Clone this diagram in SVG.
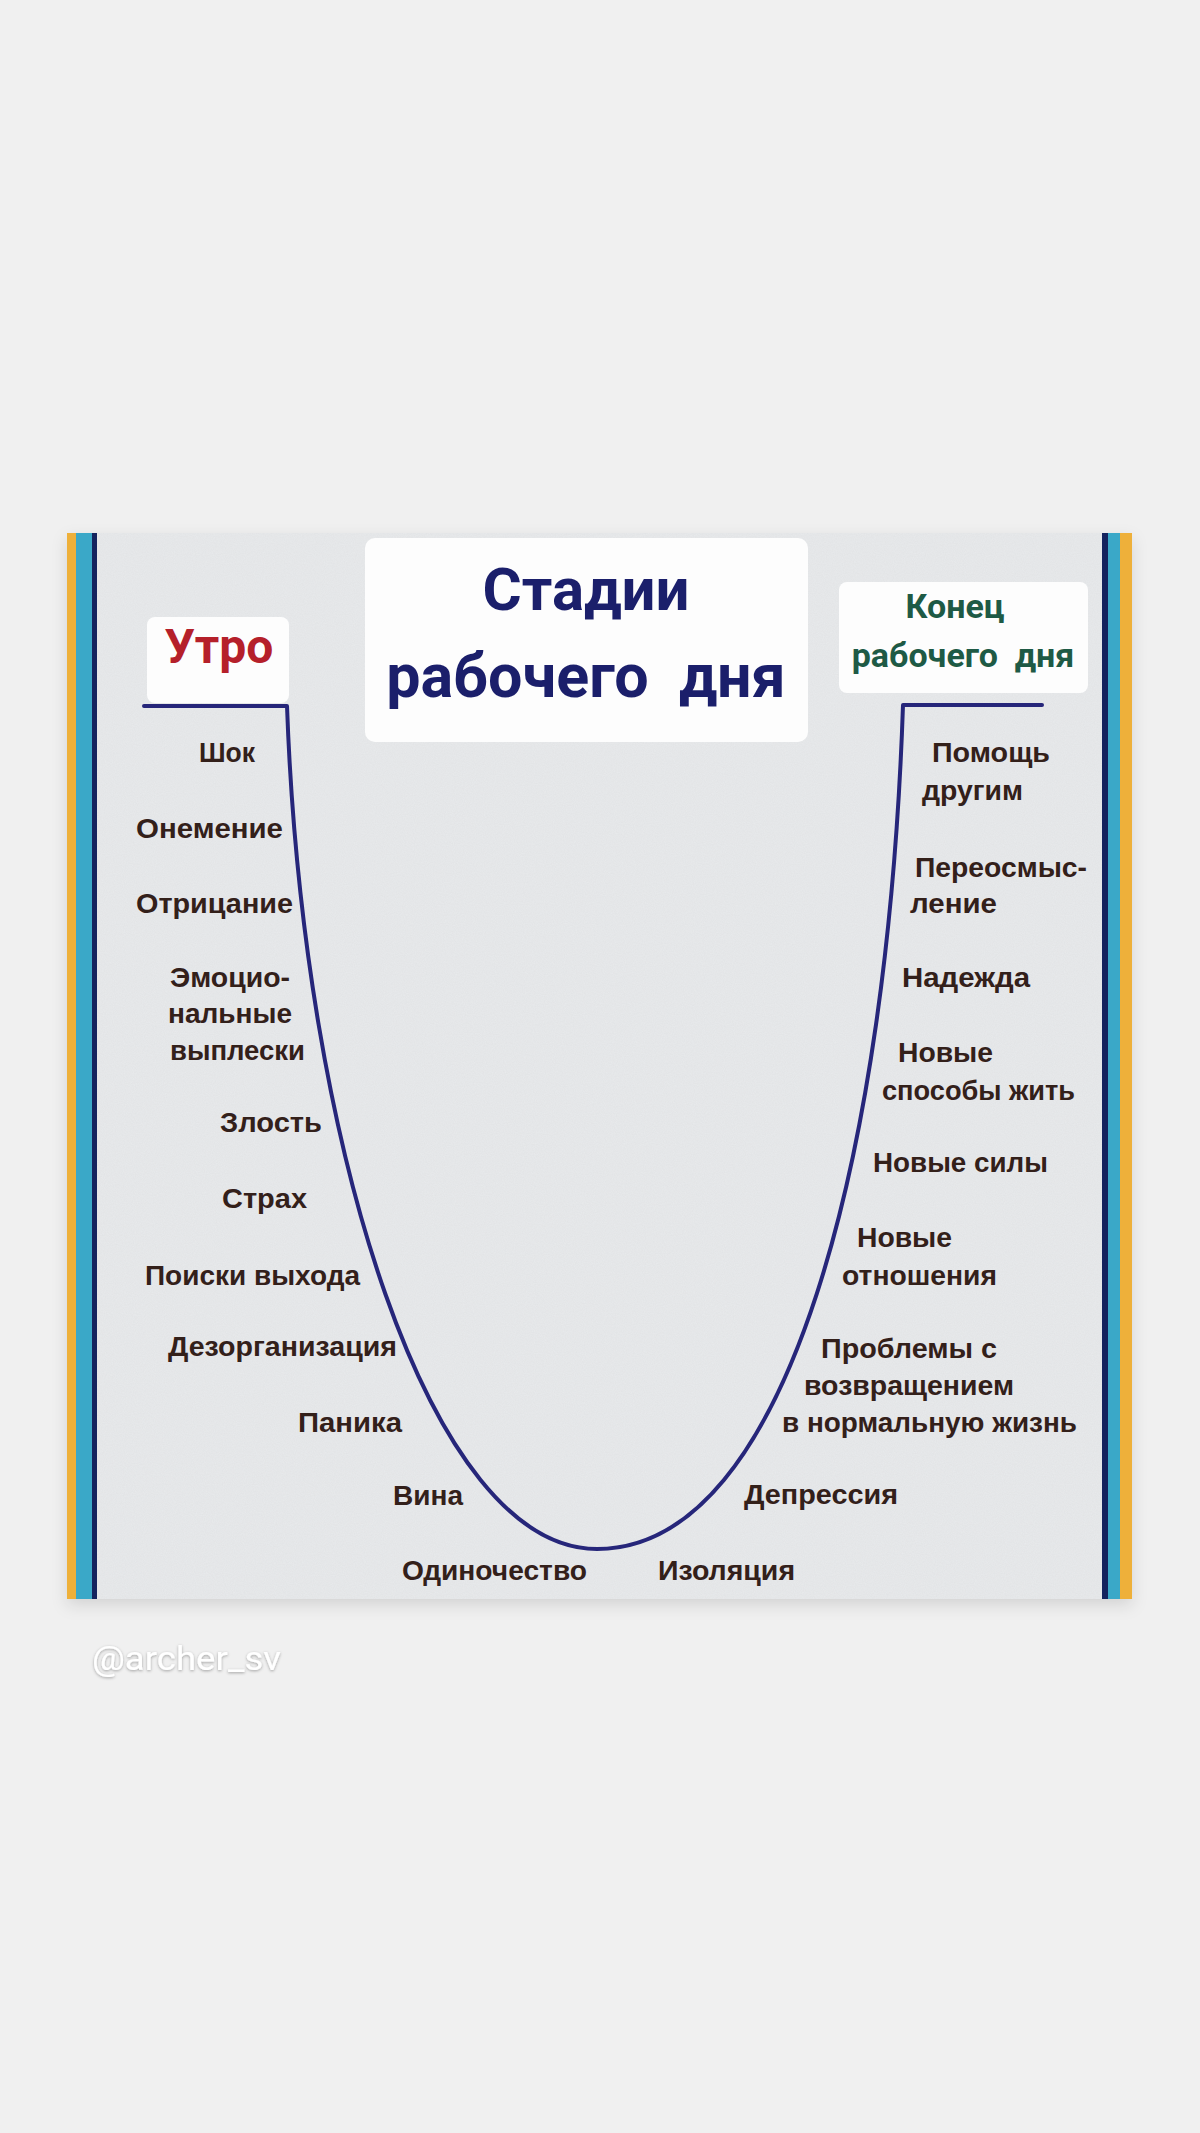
<svg xmlns="http://www.w3.org/2000/svg" width="1200" height="2133" viewBox="0 0 1200 2133">
<defs>
<style>
.lbl{font-family:"Liberation Sans",Arial,sans-serif;font-weight:bold;font-size:28px;fill:#33201a}
.ttl{font-family:Roboto,"Noto Sans",sans-serif;font-weight:bold;text-anchor:middle}
.box{fill:#fdfdfd}
.curve{fill:none;stroke:#26267a;stroke-width:4;stroke-linejoin:round;stroke-linecap:round}
</style>
<filter id="shadow" x="-5%" y="-5%" width="110%" height="115%">
<feDropShadow dx="0" dy="6" stdDeviation="8" flood-color="#000" flood-opacity="0.12"/>
</filter>
<filter id="wmshadow" x="-10%" y="-30%" width="120%" height="160%">
<feDropShadow dx="0" dy="1" stdDeviation="1.5" flood-color="#000" flood-opacity="0.35"/>
</filter>
<filter id="noise" x="0" y="0" width="100%" height="100%">
<feTurbulence type="fractalNoise" baseFrequency="0.9" numOctaves="2" seed="3" result="n"/>
<feColorMatrix in="n" type="matrix" values="0 0 0 0 0.5  0 0 0 0 0.5  0 0 0 0 0.5  0 0 0 0.15 0"/>
<feComposite in2="SourceGraphic" operator="in"/>
</filter>
</defs>
<rect width="1200" height="2133" fill="#f0f0f0"/>
<g id="panel">
<rect x="67" y="533" width="1065" height="1066" fill="#e8eaec" filter="url(#shadow)"/>
<rect x="97" y="533" width="1005" height="1066" fill="#e8eaec" filter="url(#noise)"/>
<rect x="67" y="533" width="9" height="1066" fill="#eeb03a"/>
<rect x="76" y="533" width="16" height="1066" fill="#3aa8c8"/>
<rect x="92" y="533" width="5" height="1066" fill="#14235e"/>
<rect x="1102" y="533" width="6" height="1066" fill="#14235e"/>
<rect x="1108" y="533" width="12" height="1066" fill="#3aa8c8"/>
<rect x="1120" y="533" width="12" height="1066" fill="#eeb03a"/>
</g>
<g id="title">
<rect class="box" x="365" y="538" width="443" height="204" rx="10"/>
<text class="ttl" x="586" y="610" font-size="60" fill="#1b1f6b">Стадии</text>
<text class="ttl" x="586" y="697" font-size="61" fill="#1b1f6b" xml:space="preserve">рабочего  дня</text>
</g>
<g id="morning">
<rect class="box" x="147" y="617" width="142" height="86" rx="8"/>
<text class="ttl" x="219" y="663" font-size="48" fill="#b5202a">Утро</text>
</g>
<g id="evening">
<rect class="box" x="839" y="582" width="249" height="111" rx="8"/>
<text class="ttl" x="955" y="618" font-size="34" fill="#1e5a45">Конец</text>
<text class="ttl" x="963" y="667" font-size="34" fill="#1e5a45" xml:space="preserve">рабочего  дня</text>
</g>
<g id="connectors">
<path class="curve" d="M144 706 H287 C303 1150 430 1549 597 1549 C790 1549 888 1150 903 705 H1042"/>
</g>
<g id="left-stages">
<g id="n-shok"><text class="lbl" x="199" y="762" textLength="56" lengthAdjust="spacingAndGlyphs">Шок</text></g>
<g id="n-onemenie"><text class="lbl" x="136" y="838" textLength="147" lengthAdjust="spacingAndGlyphs">Онемение</text></g>
<g id="n-otricanie"><text class="lbl" x="136" y="913" textLength="157" lengthAdjust="spacingAndGlyphs">Отрицание</text></g>
<g id="n-emocii">
<text class="lbl" x="170" y="987" textLength="120" lengthAdjust="spacingAndGlyphs">Эмоцио-</text>
<text class="lbl" x="168" y="1023" textLength="124" lengthAdjust="spacingAndGlyphs">нальные</text>
<text class="lbl" x="170" y="1060" textLength="135" lengthAdjust="spacingAndGlyphs">выплески</text>
</g>
<g id="n-zlost"><text class="lbl" x="220" y="1132" textLength="102" lengthAdjust="spacingAndGlyphs">Злость</text></g>
<g id="n-strah"><text class="lbl" x="222" y="1208" textLength="85" lengthAdjust="spacingAndGlyphs">Страх</text></g>
<g id="n-poiski"><text class="lbl" x="145" y="1285" textLength="215" lengthAdjust="spacingAndGlyphs">Поиски выхода</text></g>
<g id="n-dezorg"><text class="lbl" x="168" y="1356" textLength="229" lengthAdjust="spacingAndGlyphs">Дезорганизация</text></g>
<g id="n-panika"><text class="lbl" x="298" y="1432" textLength="104" lengthAdjust="spacingAndGlyphs">Паника</text></g>
<g id="n-vina"><text class="lbl" x="393" y="1505" textLength="70" lengthAdjust="spacingAndGlyphs">Вина</text></g>
<g id="n-odin"><text class="lbl" x="402" y="1580" textLength="185" lengthAdjust="spacingAndGlyphs">Одиночество</text></g>
</g>
<g id="right-stages">
<g id="n-izol"><text class="lbl" x="658" y="1580" textLength="137" lengthAdjust="spacingAndGlyphs">Изоляция</text></g>
<g id="n-depr"><text class="lbl" x="744" y="1504" textLength="154" lengthAdjust="spacingAndGlyphs">Депрессия</text></g>
<g id="n-probl">
<text class="lbl" x="821" y="1358" textLength="176" lengthAdjust="spacingAndGlyphs">Проблемы с</text>
<text class="lbl" x="804" y="1395" textLength="210" lengthAdjust="spacingAndGlyphs">возвращением</text>
<text class="lbl" x="782" y="1432" textLength="295" lengthAdjust="spacingAndGlyphs">в нормальную жизнь</text>
</g>
<g id="n-otnosh">
<text class="lbl" x="857" y="1247" textLength="95" lengthAdjust="spacingAndGlyphs">Новые</text>
<text class="lbl" x="842" y="1285" textLength="155" lengthAdjust="spacingAndGlyphs">отношения</text>
</g>
<g id="n-sily"><text class="lbl" x="873" y="1172" textLength="175" lengthAdjust="spacingAndGlyphs">Новые силы</text></g>
<g id="n-sposoby">
<text class="lbl" x="898" y="1062" textLength="95" lengthAdjust="spacingAndGlyphs">Новые</text>
<text class="lbl" x="882" y="1100" textLength="193" lengthAdjust="spacingAndGlyphs">способы жить</text>
</g>
<g id="n-nadezhda"><text class="lbl" x="902" y="987" textLength="128" lengthAdjust="spacingAndGlyphs">Надежда</text></g>
<g id="n-pereosm">
<text class="lbl" x="915" y="877" textLength="172" lengthAdjust="spacingAndGlyphs">Переосмыс-</text>
<text class="lbl" x="910" y="913" textLength="87" lengthAdjust="spacingAndGlyphs">ление</text>
</g>
<g id="n-pomosch">
<text class="lbl" x="932" y="762" textLength="118" lengthAdjust="spacingAndGlyphs">Помощь</text>
<text class="lbl" x="922" y="800" textLength="101" lengthAdjust="spacingAndGlyphs">другим</text>
</g>
</g>
<g id="watermark">
<text x="92" y="1670" font-family="Roboto,'Liberation Sans',sans-serif" font-size="34" fill="#ffffff" filter="url(#wmshadow)" textLength="189" lengthAdjust="spacingAndGlyphs">@archer_sv</text>
</g>
</svg>
